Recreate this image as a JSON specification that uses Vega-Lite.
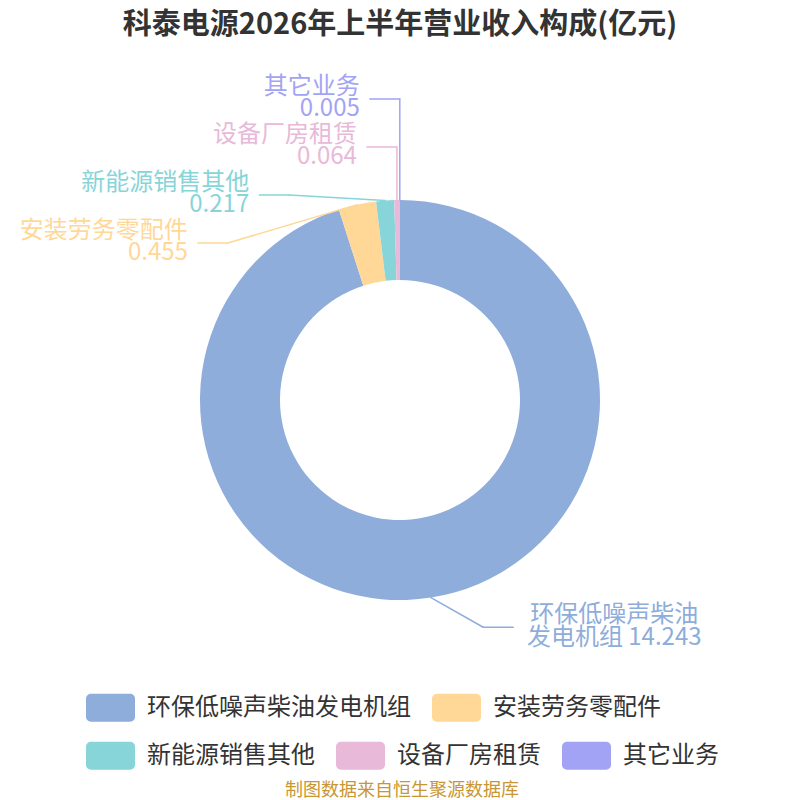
{
  "$schema": "https://vega.github.io/schema/vega-lite/v6.json",
  "width": 800,
  "height": 800,
  "autosize": {"type": "none"},
  "padding": 0,
  "background": "white",
  "title": {
    "text": "科泰电源2026年上半年营业收入构成(亿元)",
    "anchor": "middle",
    "frame": "group",
    "baseline": "middle",
    "offset": -54,
    "fontSize": 29,
    "fontWeight": "bold",
    "color": "#333333",
    "font": "Noto Sans CJK SC"
  },
  "config": {"view": {"stroke": null}, "font": "Noto Sans CJK SC"},
  "data": {
    "values": [
      {"name": "环保低噪声柴油发电机组", "value": 14.243},
      {"name": "安装劳务零配件", "value": 0.455},
      {"name": "新能源销售其他", "value": 0.217},
      {"name": "设备厂房租赁", "value": 0.064},
      {"name": "其它业务", "value": 0.005}
    ]
  },
  "transform": [
    {"window": [{"op": "row_number", "as": "idx"}, {"op": "sum", "field": "value", "as": "cum"}]},
    {"joinaggregate": [{"op": "sum", "field": "value", "as": "total"}]},
    {"calculate": "2 * PI * (datum.cum - datum.value / 2) / datum.total", "as": "mid"},
    {"calculate": "200 * sin(datum.mid)", "as": "ex"},
    {"calculate": "200 * cos(datum.mid)", "as": "ey"},
    {"calculate": "datum.mid > PI ? -1 : 1", "as": "side"},
    {"window": [{"op": "row_number", "as": "slot"}], "sort": [{"field": "mid", "order": "ascending"}], "groupby": ["side"]},
    {"calculate": "datum.side < 0 ? 157 + 48 * (datum.slot - 1) : 230 * cos(datum.mid)", "as": "ly"},
    {"calculate": "datum.side < 0 ? min(datum.ex, -sqrt(max(0, 233 * 233 - datum.ly * datum.ly))) : max(datum.ex, sqrt(max(0, 242 * 242 - datum.ly * datum.ly)))", "as": "bx"},
    {"calculate": "datum.bx + 30 * datum.side", "as": "lx"}
  ],
  "layer": [
    {
      "mark": {"type": "arc", "outerRadius": 200, "innerRadius": 120},
      "encoding": {
        "theta": {"field": "value", "type": "quantitative", "stack": true},
        "order": {"field": "idx", "type": "quantitative"},
        "fill": {
          "field": "name",
          "type": "nominal",
          "scale": {
            "domain": ["环保低噪声柴油发电机组", "安装劳务零配件", "新能源销售其他", "设备厂房租赁", "其它业务"],
            "range": ["#8eaddb", "#ffd898", "#87d5d8", "#e8b9d8", "#a3a3f5"]
          },
          "legend": {
            "values": ["环保低噪声柴油发电机组", "安装劳务零配件"],
            "orient": "none",
            "legendX": 86,
            "legendY": 683,
            "direction": "horizontal",
            "title": null,
            "padding": 0,
            "symbolType": "M-0.8,-0.571L0.8,-0.571A0.2,0.2 0 0 1 1,-0.371L1,0.371A0.2,0.2 0 0 1 0.8,0.571L-0.8,0.571A0.2,0.2 0 0 1 -1,0.371L-1,-0.371A0.2,0.2 0 0 1 -0.8,-0.571Z",
            "symbolSize": 2401,
            "symbolStrokeWidth": 0,
            "symbolOpacity": 1,
            "labelFontSize": 24,
            "labelColor": "#333333",
            "labelOffset": 12,
            "labelLimit": 400,
            "labelBaseline": "middle",
            "columnPadding": 21
          }
        }
      }
    },
    {
      "mark": {"type": "rule", "strokeWidth": 1.5, "strokeCap": "round"},
      "encoding": {
        "x": {"field": "ex", "type": "quantitative", "scale": {"domain": [-400, 400], "nice": false, "zero": false}, "axis": null},
        "y": {"field": "ey", "type": "quantitative", "scale": {"domain": [-400, 400], "nice": false, "zero": false}, "axis": null},
        "x2": {"field": "bx"},
        "y2": {"field": "ly"},
        "stroke": {
          "field": "name",
          "type": "nominal",
          "scale": {
            "domain": ["环保低噪声柴油发电机组", "安装劳务零配件", "新能源销售其他", "设备厂房租赁", "其它业务"],
            "range": ["#8eaddb", "#ffd898", "#87d5d8", "#e8b9d8", "#a3a3f5"]
          },
          "legend": null
        }
      }
    },
    {
      "mark": {"type": "rule", "strokeWidth": 1.5, "strokeCap": "round"},
      "encoding": {
        "x": {"field": "bx", "type": "quantitative"},
        "y": {"field": "ly", "type": "quantitative"},
        "x2": {"field": "lx"},
        "stroke": {"field": "name", "type": "nominal", "legend": null}
      }
    },
    {
      "transform": [
        {"filter": "datum.side < 0"},
        {"calculate": "datum.name + '\\n' + format(datum.value, '.3f')", "as": "label"}
      ],
      "mark": {"type": "text", "align": "right", "baseline": "middle", "dx": -10, "dy": -12.5, "fontSize": 24, "lineHeight": 22.5, "lineBreak": "\n"},
      "encoding": {
        "x": {"field": "lx", "type": "quantitative"},
        "y": {"field": "ly", "type": "quantitative"},
        "text": {"field": "label"},
        "color": {
          "field": "name",
          "type": "nominal",
          "scale": {
            "domain": ["新能源销售其他", "设备厂房租赁", "其它业务", "环保低噪声柴油发电机组", "安装劳务零配件"],
            "range": ["#87d5d8", "#e8b9d8", "#a3a3f5", "#8eaddb", "#ffd898"]
          },
          "legend": {
            "values": ["新能源销售其他", "设备厂房租赁", "其它业务"],
            "orient": "none",
            "legendX": 86,
            "legendY": 731,
            "direction": "horizontal",
            "padding": 0,
            "title": "制图数据来自恒生聚源数据库",
            "titleOrient": "bottom",
            "titleAnchor": "middle",
            "titleFontSize": 18,
            "titleFontWeight": "normal",
            "titleColor": "#c89632",
            "titlePadding": 12,
            "titleLimit": 600,
            "symbolType": "M-0.8,-0.571L0.8,-0.571A0.2,0.2 0 0 1 1,-0.371L1,0.371A0.2,0.2 0 0 1 0.8,0.571L-0.8,0.571A0.2,0.2 0 0 1 -1,0.371L-1,-0.371A0.2,0.2 0 0 1 -0.8,-0.571Z",
            "symbolSize": 2401,
            "symbolStrokeWidth": 0,
            "symbolOpacity": 1,
            "labelFontSize": 24,
            "labelColor": "#333333",
            "labelOffset": 12,
            "labelLimit": 400,
            "labelBaseline": "middle",
            "columnPadding": 21
          }
        }
      }
    },
    {
      "transform": [
        {"filter": "datum.side > 0"},
        {"calculate": "substring(datum.name, 0, 7) + '\\n' + substring(datum.name, 7) + ' ' + format(datum.value, '.3f')", "as": "label"}
      ],
      "mark": {"type": "text", "align": "center", "baseline": "middle", "dx": 101, "dy": -12, "fontSize": 24, "lineHeight": 23, "lineBreak": "\n"},
      "encoding": {
        "x": {"field": "lx", "type": "quantitative"},
        "y": {"field": "ly", "type": "quantitative"},
        "text": {"field": "label"},
        "fill": {"field": "name", "type": "nominal"}
      }
    }
  ]
}
